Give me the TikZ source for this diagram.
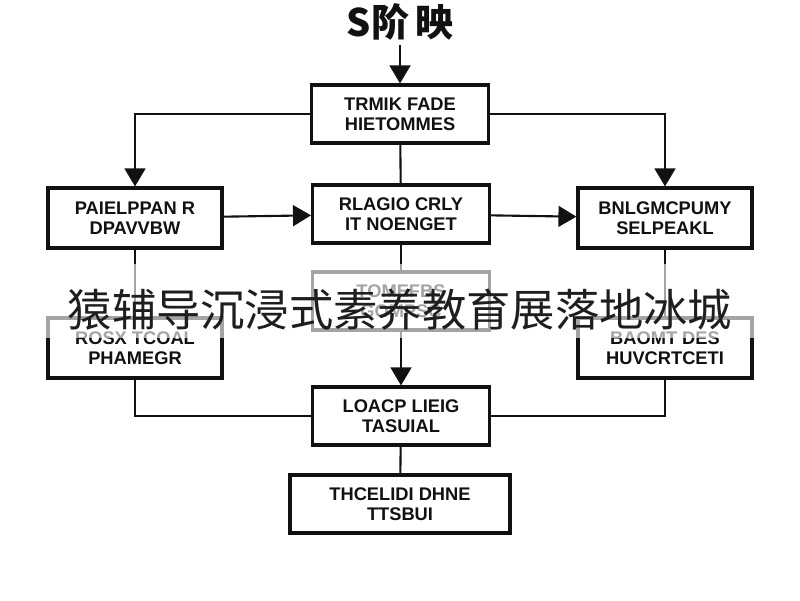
\documentclass[tikz,border=0pt]{standalone}
\usepackage{fontspec}
\usepackage{tikz}
\usetikzlibrary{arrows.meta}
\setmainfont{Liberation Sans}
\newfontfamily\cjk{Noto Sans CJK SC}
\definecolor{cInk}{HTML}{111111}
\definecolor{cMark}{HTML}{1E1E1E}
\tikzset{
  stagebox/.style={draw=cInk, line width=2.2pt, fill=white, align=center, inner sep=0pt,
    font=\fontsize{13}{14}\selectfont\bfseries, text=cInk},
  wideSt/.style={stagebox, minimum width=4.35cm, minimum height=1.5cm},
  midSt/.style={stagebox, minimum width=4.42cm, minimum height=1.45cm},
  lastSt/.style={stagebox, minimum width=5.5cm, minimum height=1.45cm},
  lnk/.style={line width=1.5pt, cInk},
  arr/.style={lnk, -{Triangle[length=0.45cm, width=0.52cm]}},
  band/.style={fill=white, opacity=0.62},
}

\begin{document}
\begin{tikzpicture}[x=0.025cm, y=-0.025cm]
\useasboundingbox[fill=white] (0,0) rectangle (800,600);
\node[font=\cjk\bfseries\fontsize{27}{30}\selectfont, text=cInk] (title) at (400,22) {S阶\,映};
\node[midSt] (trunk) at (400,114) {TRMIK FADE\\HIETOMMES};
\node[wideSt] (left) at (135,218) {PAIELPPAN R\\DPAVVBW};
\node[midSt] (core) at (401,214) {RLAGIO CRLY\\IT NOENGET};
\node[wideSt] (right) at (665,218) {BNLGMCPUMY\\SELPEAKL};
\node[midSt] (hid) at (401,301) {TOMEFBS\\GOMPSC};
\node[wideSt] (lowL) at (135,348) {ROSX TCOAL\\PHAMEGR};
\node[wideSt] (lowR) at (665,348) {BAOMT DES\\HUVCRTCETI};
\node[midSt] (merge) at (401,416) {LOACP LIEIG\\TASUIAL};
\node[lastSt] (result) at (400,504) {THCELIDI DHNE\\TTSBUI};

\draw[arr] (title) -- (trunk);
\draw[arr] (trunk.west) -| (left.north);
\draw[arr] (trunk.east) -| (right.north);
\draw[lnk] (trunk) -- (core);
\draw[arr] (left) -- (core);
\draw[arr] (core) -- (right);
\draw[lnk] (core) -- (hid);
\draw[lnk] (left) -- (lowL);
\draw[lnk] (right) -- (lowR);
\draw[arr] (hid) -- (merge);
\draw[lnk] (lowL.south) |- (merge.west);
\draw[lnk] (lowR.south) |- (merge.east);
\draw[lnk] (merge) -- (result);

\fill[band] (0,264) rectangle (800,338);
\node[font=\cjk\fontsize{31.5}{34}\selectfont, text=cMark] (mark) at (400,310) {猿辅导沉浸式素养教育展落地冰城};
\end{tikzpicture}
\end{document}
